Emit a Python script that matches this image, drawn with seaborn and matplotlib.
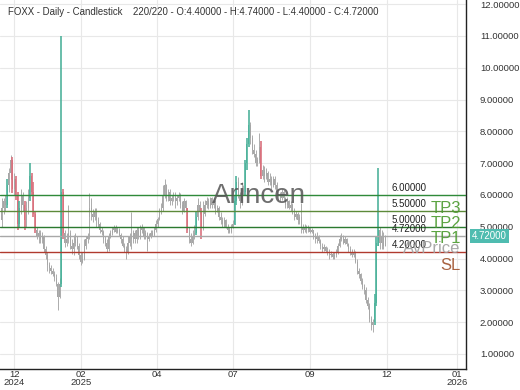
import numpy as np
import pandas as pd
import matplotlib
matplotlib.use("Agg")
import matplotlib.pyplot as plt
import matplotlib.transforms as mtransforms
import seaborn as sns

opens = [5.2, 5.6, 5.8, 5.7, 6.3, 6.7, 7.1, 6.2, 6.5, 6.0,
         5.1, 5.6, 6.0, 5.7, 5.2, 5.6, 5.9, 6.6, 6.1, 5.4,
         4.9, 4.7, 4.8, 4.6, 4.7, 4.3, 4.1, 3.8, 3.7, 3.6,
         3.5, 3.4, 3.2, 2.8, 3.2, 6.1, 4.8, 4.5, 4.6, 4.8,
         4.4, 4.3, 4.5, 4.6, 4.4, 4.1, 3.9, 4.0, 4.4, 4.6,
         5.3, 5.6, 5.4, 5.3, 5.5, 5.2, 5.1, 4.9, 4.85, 4.6,
         4.5, 4.3, 4.7, 4.8, 4.9, 5.0, 4.85, 4.9, 4.75, 4.6,
         4.4, 4.3, 4.2, 4.5, 4.7, 4.6, 4.8, 4.6, 4.9, 4.7,
         4.9, 5.0, 4.7, 4.8, 4.6, 4.7, 4.8, 4.75, 4.9, 5.1,
         5.25, 5.5, 5.6, 6.0, 6.3, 5.9, 6.1, 5.8, 5.9, 6.0,
         5.8, 5.9, 6.0, 5.7, 5.5, 5.8, 5.6, 4.9, 4.6, 4.5,
         4.7, 4.8, 5.3, 5.7, 5.5, 5.0, 5.4, 5.7, 5.8, 5.65,
         5.9, 5.7, 5.8, 5.5, 5.6, 5.3, 5.2, 5.1, 5.2, 5.0,
         4.9, 4.85, 5.0, 5.1, 5.8, 6.4, 6.0, 5.8, 6.2, 6.1,
         7.0, 7.6, 8.2, 7.8, 7.4, 7.3, 7.0, 7.1, 7.5, 6.6,
         6.8, 6.6, 6.7, 6.4, 6.5, 6.3, 6.5, 6.3, 6.1, 6.0,
         5.9, 6.1, 5.9, 5.7, 5.8, 5.6, 5.7, 5.5, 5.3, 5.4,
         5.2, 5.3, 5.0, 4.9, 5.0, 4.9, 4.95, 4.85, 4.9, 4.7,
         4.6, 4.7, 4.55, 4.4, 4.3, 4.35, 4.25, 4.2, 4.1, 4.15,
         4.05, 4.1, 4.2, 4.4, 4.6, 4.7, 4.5, 4.6, 4.45, 4.3,
         4.2, 4.1, 4.2, 3.9, 3.6, 3.5, 3.3, 3.1, 3.0, 2.7,
         2.5, 2.1, 1.9, 2.0, 2.6, 4.4, 4.9, 4.5, 4.7, 4.40]

highs = [5.9, 5.9, 6.0, 6.5, 6.85, 7.26, 7.2, 6.7, 6.6, 6.1,
         5.8, 6.2, 6.1, 5.8, 5.8, 6.2, 7.0, 6.7, 6.4, 5.5,
         5.0, 4.9, 4.9, 4.85, 4.75, 4.4, 4.2, 3.9, 3.8, 3.7,
         3.6, 3.5, 3.25, 3.4, 11.0, 6.2, 4.9, 4.8, 5.7, 4.9,
         4.6, 4.75, 4.8, 4.7, 4.5, 4.2, 4.2, 4.6, 4.7, 4.8,
         6.07, 5.9, 5.55, 5.6, 5.6, 5.3, 5.15, 5.0, 4.9, 4.7,
         4.6, 4.8, 4.9, 5.0, 5.05, 5.05, 5.0, 4.95, 4.8, 4.7,
         4.5, 4.4, 4.7, 4.8, 5.45, 4.9, 4.9, 5.0, 5.0, 5.05,
         5.1, 5.0, 4.9, 4.85, 4.8, 4.9, 4.9, 5.0, 5.2, 5.3,
         5.6, 5.75, 6.3, 6.5, 6.35, 6.2, 6.2, 6.0, 6.1, 6.1,
         6.0, 6.1, 6.05, 5.8, 5.9, 5.85, 5.6, 5.0, 4.8, 4.9,
         5.06, 5.5, 5.9, 5.8, 5.6, 5.8, 5.85, 5.95, 5.9, 5.95,
         5.95, 5.9, 5.85, 5.7, 5.65, 5.45, 5.3, 5.3, 5.25, 5.1,
         5.0, 5.1, 5.2, 6.0, 6.6, 6.55, 6.1, 6.4, 6.3, 7.1,
         7.8, 8.68, 8.3, 7.9, 7.6, 7.4, 7.2, 7.95, 7.7, 6.95,
         6.9, 6.85, 6.75, 6.7, 6.6, 6.6, 6.6, 6.4, 6.2, 6.1,
         6.2, 6.15, 5.95, 5.95, 5.85, 5.8, 5.75, 5.6, 5.5, 5.45,
         5.4, 5.75, 5.1, 5.1, 5.05, 5.05, 5.0, 4.95, 4.9, 4.8,
         4.85, 4.75, 4.6, 4.5, 4.45, 4.4, 4.35, 4.3, 4.25, 4.2,
         4.2, 4.3, 4.5, 4.75, 4.8, 4.75, 4.7, 4.65, 4.5, 4.4,
         4.3, 4.3, 4.25, 4.0, 3.7, 3.55, 3.4, 3.2, 3.1, 2.8,
         2.6, 2.2, 2.1, 2.9, 4.7, 6.85, 5.0, 4.9, 4.85, 4.74]

lows = [5.0, 5.4, 5.5, 5.6, 6.1, 6.5, 6.07, 6.0, 5.85, 4.9,
        5.0, 5.4, 5.5, 4.9, 5.0, 5.4, 5.8, 6.0, 5.3, 4.8,
        4.6, 4.5, 4.5, 4.5, 4.2, 4.0, 3.6, 3.55, 3.5, 3.45,
        3.3, 3.15, 2.39, 2.75, 3.1, 4.6, 4.35, 4.4, 4.5, 4.3,
        4.15, 4.1, 4.4, 4.3, 4.0, 3.8, 3.85, 3.95, 4.3, 4.5,
        4.6, 5.2, 5.15, 5.2, 5.0, 5.0, 4.8, 4.75, 4.5, 4.4,
        4.2, 4.25, 4.65, 4.75, 4.85, 4.8, 4.8, 4.7, 4.5, 4.35,
        4.2, 4.0, 4.15, 4.4, 4.3, 4.5, 4.5, 4.5, 4.6, 4.6,
        4.8, 4.6, 4.6, 4.25, 4.55, 4.65, 4.7, 4.7, 4.85, 5.0,
        5.2, 5.4, 5.5, 5.9, 5.8, 5.8, 5.7, 5.7, 5.8, 5.6,
        5.7, 5.8, 5.6, 5.4, 5.45, 5.5, 4.8, 4.5, 4.4, 4.45,
        4.6, 4.75, 5.2, 5.4, 4.6, 4.9, 5.35, 5.6, 5.55, 5.6,
        5.6, 5.6, 5.4, 5.45, 5.2, 5.1, 5.0, 5.0, 4.95, 4.8,
        4.8, 4.8, 4.95, 5.05, 5.7, 5.9, 5.6, 5.7, 6.0, 6.0,
        6.8, 7.5, 7.6, 7.3, 7.2, 6.9, 6.9, 7.0, 6.5, 6.5,
        6.4, 6.5, 6.3, 6.3, 6.2, 6.25, 6.2, 6.0, 5.85, 5.8,
        5.85, 5.8, 5.6, 5.6, 5.55, 5.5, 5.4, 5.2, 5.25, 5.1,
        5.1, 4.8, 4.8, 4.85, 4.8, 4.85, 4.8, 4.8, 4.6, 4.5,
        4.5, 4.5, 4.3, 4.2, 4.25, 4.2, 4.1, 4.0, 4.05, 4.0,
        4.0, 4.05, 4.15, 4.35, 4.55, 4.45, 4.45, 4.4, 4.2, 4.1,
        4.05, 4.05, 3.85, 3.5, 3.4, 3.2, 3.05, 2.9, 2.6, 2.4,
        2.0, 1.75, 1.7, 1.9, 2.5, 4.4, 4.3, 4.3, 4.3, 4.40]

closes = [5.6, 5.8, 5.7, 6.3, 6.7, 7.1, 6.2, 6.5, 6.0, 5.1,
          5.6, 6.0, 5.7, 5.2, 5.6, 5.9, 6.6, 6.1, 5.4, 4.9,
          4.7, 4.8, 4.6, 4.7, 4.3, 4.1, 3.8, 3.7, 3.6, 3.5,
          3.4, 3.2, 2.8, 3.2, 6.1, 4.8, 4.5, 4.6, 4.8, 4.4,
          4.3, 4.5, 4.6, 4.4, 4.1, 3.9, 4.0, 4.4, 4.6, 4.7,
          5.6, 5.4, 5.3, 5.5, 5.2, 5.1, 4.9, 4.85, 4.6, 4.5,
          4.3, 4.7, 4.8, 4.9, 5.0, 4.85, 4.9, 4.75, 4.6, 4.4,
          4.3, 4.2, 4.5, 4.7, 4.6, 4.8, 4.6, 4.9, 4.7, 4.9,
          5.0, 4.7, 4.8, 4.6, 4.7, 4.8, 4.75, 4.9, 5.1, 5.25,
          5.5, 5.6, 6.0, 6.3, 5.9, 6.1, 5.8, 5.9, 6.0, 5.8,
          5.9, 6.0, 5.7, 5.5, 5.8, 5.6, 4.9, 4.6, 4.5, 4.7,
          4.8, 5.3, 5.7, 5.5, 5.0, 5.4, 5.7, 5.8, 5.65, 5.9,
          5.7, 5.8, 5.5, 5.6, 5.3, 5.2, 5.1, 5.2, 5.0, 4.9,
          4.85, 5.0, 5.1, 5.8, 6.4, 6.0, 5.8, 6.2, 6.1, 7.0,
          7.6, 8.2, 7.8, 7.4, 7.3, 7.0, 7.1, 7.5, 6.6, 6.8,
          6.6, 6.7, 6.4, 6.5, 6.3, 6.5, 6.3, 6.1, 6.0, 5.9,
          6.1, 5.9, 5.7, 5.8, 5.6, 5.7, 5.5, 5.3, 5.4, 5.2,
          5.3, 5.0, 4.9, 5.0, 4.9, 4.95, 4.85, 4.9, 4.7, 4.6,
          4.7, 4.55, 4.4, 4.3, 4.35, 4.25, 4.2, 4.1, 4.15, 4.05,
          4.1, 4.2, 4.4, 4.6, 4.7, 4.5, 4.6, 4.45, 4.3, 4.2,
          4.1, 4.2, 3.9, 3.6, 3.5, 3.3, 3.1, 3.0, 2.7, 2.5,
          2.1, 1.9, 2.0, 2.6, 4.5, 4.9, 4.5, 4.7, 4.4, 4.72]

tick_pos = [7, 45, 88.6, 132, 176, 220, 260]
tick_labels = ["12\n2024", "02\n2025", "04", "07", "09", "12", "01\n2026"]
y_ticks = [1, 2, 3, 4, 5, 6, 7, 8, 9, 10, 11, 12]

level_values = [6.0, 5.5, 5.0, 4.72, 4.2]
level_colors = ["#2f8a3a", "#5c8a3a", "#2b7a2f", "#a8a8a8", "#b03a2e"]
tag_names = ["TP3", "TP2", "TP1", "AvPrice", "SL"]
tag_y = [5.57, 5.09, 4.62, 4.31, 3.77]
tag_colors = ["#4a9a2e", "#4a9a2e", "#4a9a2e", "#a0a0a0", "#a0522d"]

title = "FOXX - Daily - Candlestick    220/220 - O:4.40000 - H:4.74000 - L:4.40000 - C:4.72000"

df = pd.DataFrame({"open": opens, "high": highs, "low": lows, "close": closes})
df["idx"] = np.arange(len(df))
move = df["close"] - df["open"]
df["color"] = np.where(move > 0.45, "#4fb39c", np.where(move < -0.45, "#d9727e", "#a6a6a6"))
df["lw"] = np.where(np.abs(move) > 0.45, 1.2, 0.65)

sns.set_theme(style="whitegrid")
plt.rcParams["font.family"] = ["Liberation Sans", "DejaVu Sans"]

fig = plt.figure(figsize=(5.2, 3.9), dpi=100)
ax = fig.add_axes([0.0, 0.054, 0.896, 0.946])
ax.set_facecolor("white")

# wicks
ax.vlines(df["idx"], df["low"], df["high"], colors=df["color"], linewidths=df["lw"], zorder=3)
# bodies
bottoms = np.minimum(df["open"], df["close"])
heights = np.abs(df["close"] - df["open"])
ax.bar(df["idx"], heights, bottom=bottoms, width=0.6, color=df["color"], linewidth=0, zorder=3)

ax.set_xlim(-1.1, 265.2)
ax.set_ylim(0.53, 12.13)

ax.yaxis.tick_right()
ax.set_yticks(y_ticks)
ax.set_yticklabels([f"{v:.5f}" for v in y_ticks])
ax.set_xticks(tick_pos)
ax.set_xticklabels(tick_labels, linespacing=0.82)
ax.tick_params(axis="both", labelsize=6.8, colors="#333333", length=0)
ax.tick_params(axis="x", pad=1)
ax.tick_params(axis="y", pad=10)

ax.grid(True, color="#e8e8e8", linewidth=0.8)
for s in ["top", "left"]:
    ax.spines[s].set_visible(False)
for s in ["right", "bottom"]:
    ax.spines[s].set_visible(True)
    ax.spines[s].set_color("#222222")
    ax.spines[s].set_linewidth(1.0)

trans = mtransforms.blended_transform_factory(ax.transAxes, ax.transData)

for v, c in zip(level_values, level_colors):
    ax.axhline(v, color=c, linewidth=1.0, zorder=4)
    ax.text(0.841, v + 0.06, f"{v:.5f}", transform=trans, fontsize=7, color="#222222",
            ha="left", va="bottom", zorder=6)

for name, yv, c in zip(tag_names, tag_y, tag_colors):
    ax.text(0.989, yv, name, transform=trans, fontsize=12, color=c, ha="right",
            va="center", zorder=6, alpha=0.9)

# current price tag on right axis
ax.text(1.013, closes[-1], f"{closes[-1]:.5f}", transform=trans, fontsize=7, color="white",
        ha="left", va="center", zorder=7, clip_on=False,
        bbox=dict(boxstyle="square,pad=0.2", facecolor="#4fbcb0", edgecolor="none"))

# watermark
ax.text(0.556, 0.47, "Arincen", transform=ax.transAxes, fontsize=20, color="#555555",
        ha="center", va="center", alpha=0.85, zorder=5)

fig.text(8 / 520, 1 - 12 / 390, title, fontsize=6.9, color="#333333", ha="left", va="center")

fig.savefig("out.png", dpi=100)
